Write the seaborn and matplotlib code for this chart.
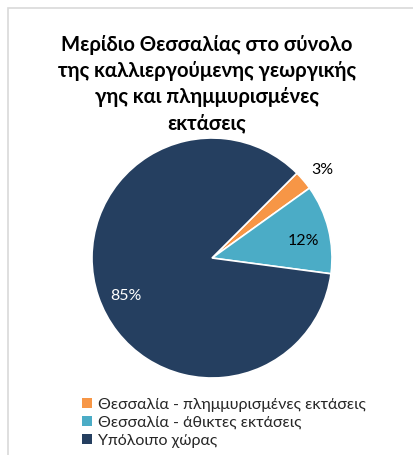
import seaborn as sns
import matplotlib.pyplot as plt
from matplotlib.patches import Rectangle

# Dados do gráfico
categorias = ['Θεσσαλία - πλημμυρισμένες εκτάσεις',
              'Θεσσαλία - άθικτες εκτάσεις',
              'Υπόλοιπο χώρας']
valores = [2.6, 12.0, 85.4]
rotulos = ['3%', '12%', '85%']
cores = ['#F79646', '#4BACC6', '#253F60']

sns.set_theme(style='white')
plt.rcParams['font.family'] = ['Lato', 'DejaVu Sans']

fig = plt.figure(figsize=(4.14, 4.55), dpi=100)
ax = fig.add_axes([(212 - 120) / 414, 1 - (258 + 120) / 455, 240 / 414, 240 / 455])

wedges, _ = ax.pie(valores, colors=cores, startangle=45, counterclock=False,
                   wedgeprops=dict(edgecolor='white', linewidth=1.2))
ax.set_aspect('equal')
ax.set_xlim(-1, 1)
ax.set_ylim(-1, 1)

# Rótulos de porcentagem
pos = [(0.92, 0.73), (0.76, 0.14), (-0.72, -0.32)]
cor_txt = ['black', 'black', 'white']
for (x, y), r, c in zip(pos, rotulos, cor_txt):
    ax.text(x, y, r, ha='center', va='center', fontsize=11.5, color=c)

# Título
fig.text(0.5, 1 - 84 / 455,
         'Μερίδιο Θεσσαλίας στο σύνολο\nτης καλλιεργούμενης γεωργικής\nγης και πλημμυρισμένες\nεκτάσεις',
         ha='center', va='center', fontsize=14.6, fontweight='bold',
         linespacing=1.38, color='black')

# Legenda
leg = fig.legend(wedges, categorias, loc='upper left',
                 bbox_to_anchor=(74 / 414, 1 - 390 / 455), frameon=False,
                 fontsize=11.5, handlelength=0.6, handleheight=0.6,
                 handletextpad=0.4, labelspacing=0.25, borderpad=0)
for h in leg.legend_handles:
    h.set_edgecolor('none')

# Moldura
fig.patches.append(Rectangle((8 / 414, -0.1), 1.2, 1.1 - 8 / 455,
                             transform=fig.transFigure, fill=False,
                             edgecolor='#D9D9D9', linewidth=1.2))

fig.savefig('out.png', dpi=100)
